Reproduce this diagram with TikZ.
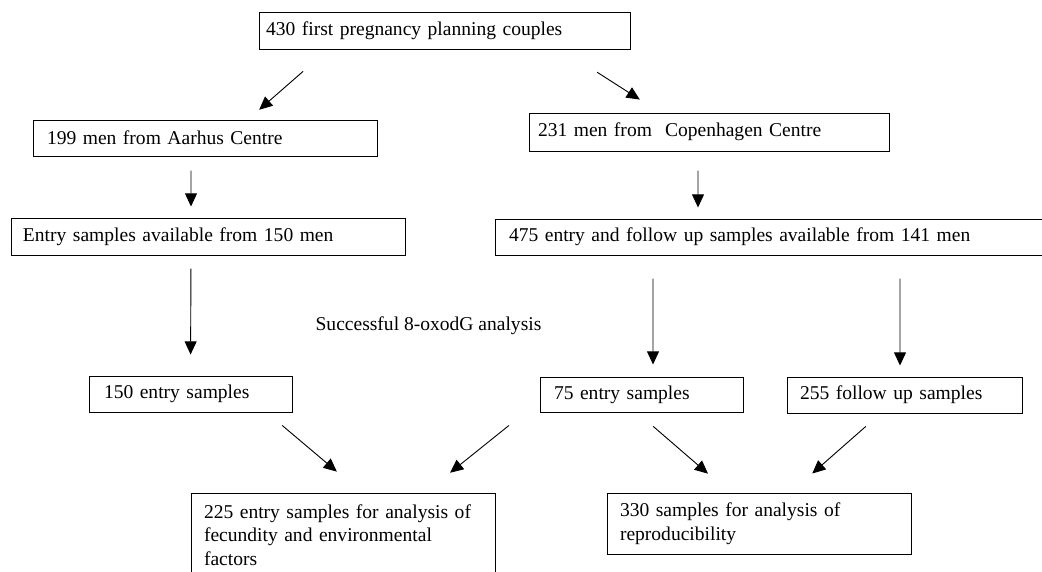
\documentclass[tikz,border=0pt]{standalone}
\usepackage{fontspec}
\setmainfont{Liberation Serif}
\usetikzlibrary{arrows.meta,calc}
\newcommand{\boxfont}{\fontsize{13.9pt}{16.7pt}\selectfont}
\tikzset{
  flow/.style={-{Triangle[length=3.3mm,width=3mm]}, line width=0.65pt, draw=black},
  box/.style={
    draw=black,
    line width=0.7pt,
    align=left,
    inner xsep=0.33cm,
    inner ysep=0.1cm,
    font=\boxfont
  },
  note/.style={font=\boxfont, inner sep=0pt}
}

\begin{document}
\begin{tikzpicture}
  \useasboundingbox (0,0) rectangle (26.05,-14.275);

  % first row
  \node[box,inner xsep=0.175cm,text width=8.925cm,minimum height=0.925cm]
    (couples) at (11.1125,-0.7625) {430 first pregnancy planning couples};

  % centres
  \node[box,inner xsep=0.35cm,text width=7.9cm,minimum height=0.9cm]
    (aarhus) at (5.125,-3.45) {199 men from Aarhus Centre};
  \node[box,inner xsep=0.225cm,text width=8.55cm,minimum height=0.95cm]
    (copen) at (17.725,-3.3) {231 men from\ \ Copenhagen Centre};

  % available samples
  \node[box,inner xsep=0.3cm,text width=9.25cm,minimum height=0.925cm]
    (aarhusin) at (5.2,-5.9125) {Entry samples available from 150 men};
  \node[box,inner xsep=0.35cm,text width=13.175cm,minimum height=0.9cm]
    (copenin) at (19.3125,-5.925) {475 entry and follow up samples available from 141 men};

  \node[note] (oxodg) at (10.7125,-8.15) {Successful 8-oxodG analysis};

  % analysed samples
  \node[box,inner xsep=0.375cm,text width=4.325cm,minimum height=0.9cm]
    (aarhusent) at (4.7625,-9.85) {150 entry samples};
  \node[box,inner xsep=0.35cm,text width=4.375cm,minimum height=0.875cm]
    (copenent) at (16.0375,-9.8625) {75 entry samples};
  \node[box,inner xsep=0.325cm,text width=5.225cm,minimum height=0.9cm]
    (copenfol) at (22.6125,-9.875) {255 follow up samples};

  % final sets
  \node[box,inner xsep=0.325cm,text width=6.95cm,minimum height=2.1cm]
    (fecund) at (8.575,-13.375)
    {225 entry samples for analysis of\\fecundity and environmental\\factors};
  \node[box,inner xsep=0.325cm,text width=6.95cm,minimum height=1.525cm]
    (reprod) at (18.975,-13.0875)
    {330 samples for analysis of\\reproducibility};

  \draw[flow,shorten <=0.83cm,shorten >=0.37cm]
    ([xshift=-2.91cm]couples.south) -- ([xshift=1.075cm]aarhus.north);
  \draw[flow,shorten <=1.05cm,shorten >=0.6cm]
    ([xshift=2.93cm]couples.south) -- ([xshift=-1.225cm]copen.north);

  \draw[flow,shorten <=0.35cm,shorten >=0.275cm]
    ([xshift=-0.35cm]aarhus.south) -- ([xshift=-0.425cm]aarhusin.north);
  \draw[flow,shorten <=0.475cm,shorten >=0.275cm]
    ([xshift=-0.275cm]copen.south) -- ([xshift=-1.8625cm]copenin.north);

  \draw[flow,shorten <=0.325cm,shorten >=0.525cm]
    ([xshift=-0.425cm]aarhusin.south) -- (aarhusent.north);
  \draw[flow,shorten <=0.575cm,shorten >=0.3cm]
    ([xshift=-2.9875cm]copenin.south) -- ([xshift=0.2875cm]copenent.north);
  \draw[flow,shorten <=0.575cm,shorten >=0.275cm]
    ([xshift=3.1875cm]copenin.south) -- ([xshift=-0.1125cm]copenfol.north);

  \draw[flow,shorten <=0.5cm,shorten >=0.81cm]
    ([xshift=1.91cm]aarhusent.south) -- ([xshift=0.465cm]fecund.north);
  \draw[flow,shorten <=0.52cm,shorten >=0.79cm]
    ([xshift=-2.91cm]copenent.south) -- ([xshift=2.06cm]fecund.north);
  \draw[flow,shorten <=0.53cm,shorten >=0.72cm]
    ([xshift=-0.11cm]copenent.south) -- ([xshift=-0.73cm]reprod.north);
  \draw[flow,shorten <=0.49cm,shorten >=0.72cm]
    ([xshift=-0.6cm]copenfol.south) -- ([xshift=0.79cm]reprod.north);
\end{tikzpicture}
\end{document}
